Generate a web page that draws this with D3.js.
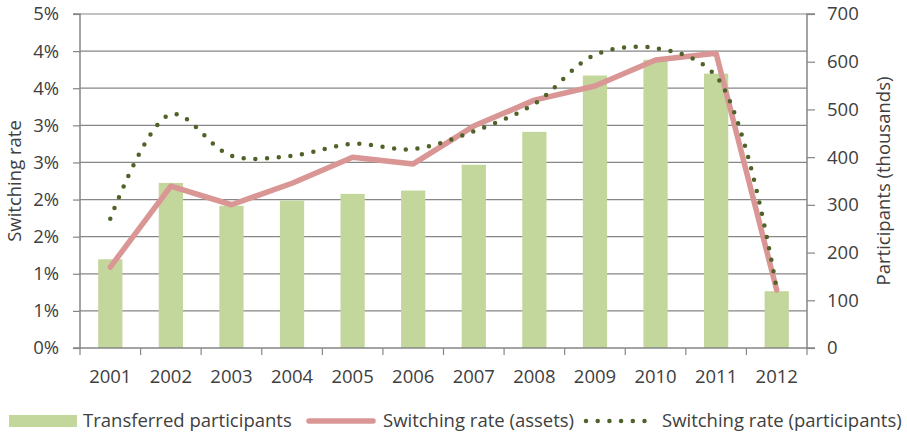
<!DOCTYPE html>
<html>
<head>
<meta charset="utf-8">
<script src="https://cdn.jsdelivr.net/npm/d3@7"></script>
<style>
  body { margin: 0; background: #fff; }
  svg text { font-family: "Open Sans", sans-serif; fill: #404040; }
</style>
</head>
<body>
<div class="chart"></div>
<script>
// chart values
var years = ["2001", "2002", "2003", "2004", "2005", "2006", "2007", "2008", "2009", "2010", "2011", "2012"];
var transferred = [186, 346, 298, 309, 323, 330, 384, 453, 571, 604, 575, 119];       // thousands
var rateAssets = [1.09, 2.18, 1.93, 2.22, 2.57, 2.48, 2.99, 3.34, 3.53, 3.88, 3.97, 0.78]; // %
var rateParticipants = [1.74, 3.15, 2.59, 2.59, 2.75, 2.68, 2.92, 3.29, 3.95, 4.04, 3.66, 0.79]; // %

var leftTicks = [0, 0.5, 1, 1.5, 2, 2.5, 3, 3.5, 4, 4.5];
var leftTickLabels = ["0%", "1%", "1%", "2%", "2%", "3%", "3%", "4%", "4%", "5%"];
var rightTicks = [0, 100, 200, 300, 400, 500, 600, 700];

var svgWidth = 907;
var svgHeight = 436;
var fontSize = "18.5px";

var margin = { top: 14, right: 100, bottom: 88, left: 80 };
var width = 807 - margin.left;
var height = 348 - margin.top;

var svg = d3.select(".chart")
  .append("svg")
  .attr("width", svgWidth)
  .attr("height", svgHeight);

var chartGroup = svg.append("g")
  .attr("transform", `translate(${margin.left}, ${margin.top})`);

var axisGrey = "#868686";

// scales
var x = d3.scaleBand().domain(years).range([0, width]).padding(0);
var yLeft = d3.scaleLinear().domain([0, 4.5]).range([height, 0]);
var yRight = d3.scaleLinear().domain([0, 700]).range([height, 0]);

// gridlines (left axis only)
chartGroup.append("g")
  .selectAll("line")
  .data(leftTicks.slice(1))
  .enter()
  .append("line")
  .attr("x1", 0)
  .attr("x2", width)
  .attr("y1", d => yLeft(d))
  .attr("y2", d => yLeft(d))
  .attr("stroke", axisGrey)
  .attr("stroke-width", 1.2);

// bars
var barW = x.bandwidth() * 0.4;
chartGroup.selectAll("rect.bar")
  .data(transferred)
  .enter()
  .append("rect")
  .attr("class", "bar")
  .attr("x", (d, i) => x(years[i]) + (x.bandwidth() - barW) / 2)
  .attr("y", d => yRight(d))
  .attr("width", barW)
  .attr("height", d => height - yRight(d))
  .attr("fill", "#c3d69b");

// left axis
var leftAxis = d3.axisLeft(yLeft)
  .tickValues(leftTicks)
  .tickFormat((d, i) => leftTickLabels[i])
  .tickSize(7)
  .tickPadding(14);
var gl = chartGroup.append("g").call(leftAxis);

// right axis
var rightAxis = d3.axisRight(yRight)
  .tickValues(rightTicks)
  .tickSize(8)
  .tickPadding(12);
var gr = chartGroup.append("g")
  .attr("transform", `translate(${width}, 0)`)
  .call(rightAxis);

// bottom axis: ticks on band boundaries
var bottomAxis = d3.axisBottom(x).tickSize(0).tickPadding(22);
var gb = chartGroup.append("g")
  .attr("transform", `translate(0, ${height})`)
  .call(bottomAxis);
gb.selectAll(".tick")
  .append("line")
  .attr("x1", -x.bandwidth() / 2)
  .attr("x2", -x.bandwidth() / 2)
  .attr("y1", 0)
  .attr("y2", 7)
  .attr("stroke", axisGrey)
  .attr("stroke-width", 1.2);
gb.append("line")
  .attr("x1", width).attr("x2", width)
  .attr("y1", 0).attr("y2", 7)
  .attr("stroke", axisGrey)
  .attr("stroke-width", 1.2);

[gl, gr, gb].forEach(function(g) {
  g.select(".domain").attr("stroke", axisGrey).attr("stroke-width", 1.5);
  g.selectAll(".tick line").attr("stroke", axisGrey).attr("stroke-width", 1.2);
  g.selectAll(".tick text")
    .style("font-family", "'Open Sans', sans-serif")
    .style("font-size", fontSize)
    .attr("fill", "#404040");
});
gl.select(".domain").attr("d", `M-7,${height}H0V0H-7`);
gr.select(".domain").attr("d", `M8,${height}H0V0H8`);
gb.select(".domain").attr("d", `M0,0H${width}`);

// lines
var cx = (d, i) => x(years[i]) + x.bandwidth() / 2;

var assetsLine = d3.line()
  .x(cx)
  .y(d => yLeft(d));

chartGroup.append("path")
  .datum(rateAssets)
  .attr("d", assetsLine)
  .attr("fill", "none")
  .attr("stroke", "#d99694")
  .attr("stroke-width", 5.5)
  .attr("stroke-linejoin", "round")
  .attr("stroke-linecap", "round");

var partLine = d3.line()
  .x(cx)
  .y(d => yLeft(d))
  .curve(d3.curveCatmullRom.alpha(0.5));

chartGroup.append("path")
  .datum(rateParticipants)
  .attr("d", partLine)
  .attr("fill", "none")
  .attr("stroke", "#4f6228")
  .attr("stroke-width", 4.5)
  .attr("stroke-dasharray", "0 11.7")
  .attr("stroke-linecap", "round");

// axis titles
svg.append("text")
  .attr("transform", "rotate(-90)")
  .attr("x", -181)
  .attr("y", 21)
  .attr("text-anchor", "middle")
  .style("font-size", fontSize)
  .text("Switching rate");

svg.append("text")
  .attr("transform", "rotate(-90)")
  .attr("x", -181)
  .attr("y", 890)
  .attr("text-anchor", "middle")
  .style("font-size", fontSize)
  .text("Participants (thousands)");

// legend
var legend = svg.append("g");
var ly = 421;

legend.append("rect")
  .attr("x", 9).attr("y", ly - 6)
  .attr("width", 68).attr("height", 12)
  .attr("fill", "#c3d69b");
legend.append("text")
  .attr("x", 83).attr("y", ly).attr("dy", "0.35em")
  .style("font-size", fontSize)
  .text("Transferred participants");

legend.append("line")
  .attr("x1", 309).attr("x2", 373)
  .attr("y1", ly).attr("y2", ly)
  .attr("stroke", "#d99694")
  .attr("stroke-width", 5.5)
  .attr("stroke-linecap", "round");
legend.append("text")
  .attr("x", 383).attr("y", ly).attr("dy", "0.35em")
  .style("font-size", fontSize)
  .text("Switching rate (assets)");

legend.append("line")
  .attr("x1", 586).attr("x2", 646)
  .attr("y1", ly).attr("y2", ly)
  .attr("stroke", "#4f6228")
  .attr("stroke-width", 4.5)
  .attr("stroke-dasharray", "0 11.7")
  .attr("stroke-linecap", "round");
legend.append("text")
  .attr("x", 662).attr("y", ly).attr("dy", "0.35em")
  .style("font-size", fontSize)
  .text("Switching rate (participants)");
</script>
</body>
</html>
